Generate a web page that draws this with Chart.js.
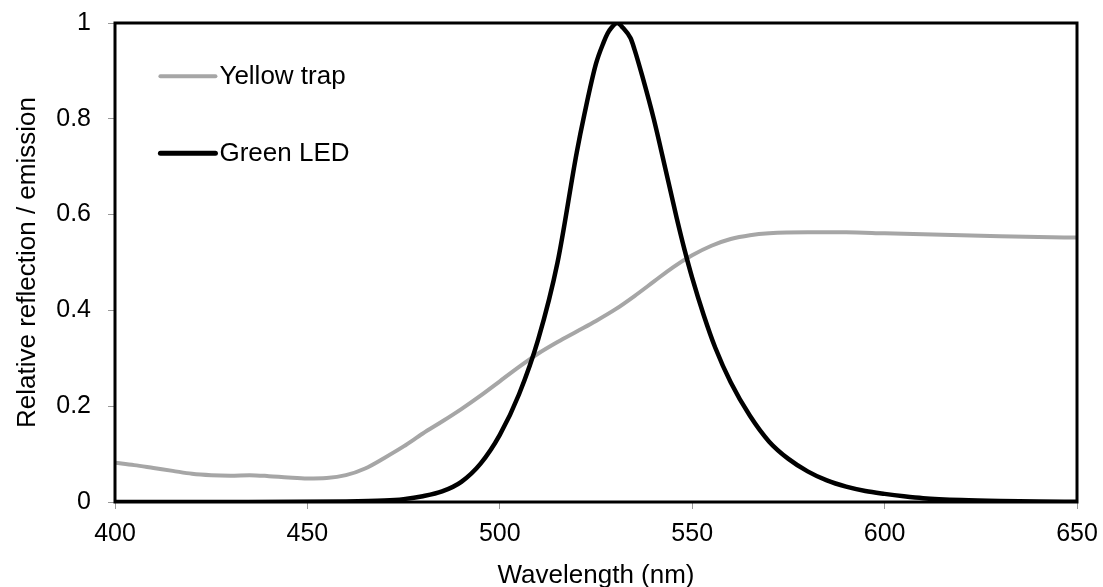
<!DOCTYPE html>
<html>
<head>
<meta charset="utf-8">
<script src="https://cdn.jsdelivr.net/npm/chart.js@4"></script>
<style>
  html, body { margin: 0; padding: 0; background: #fff; }
  #wrap { width: 1103px; height: 587px; }
</style>
</head>
<body>
<div id="wrap"><canvas id="c" width="1103" height="587"></canvas></div>
<script>
// Yellow trap reflection spectrum
const yellowNm = [400,405,410,415,420,425,430,435,440,445,450,455,460,465,470,475,480,485,490,495,500,505,510,515,520,525,530,535,540,545,550,555,560,565,570,580,590,600,610,620,630,640,650];
const yellowVal = [0.082,0.077,0.071,0.065,0.059,0.056,0.055,0.056,0.054,0.051,0.049,0.050,0.056,0.070,0.092,0.116,0.143,0.168,0.194,0.222,0.252,0.282,0.310,0.334,0.356,0.378,0.402,0.430,0.460,0.490,0.515,0.535,0.549,0.557,0.561,0.563,0.563,0.561,0.559,0.557,0.555,0.553,0.552];

// Green LED emission spectrum
const greenNm = [400,430,460,470,475,480,485,490,495,500,505,510,515,520,522,525,527,528,529,530.5,532,534,535,537,540,543,546,548,550,553,556,560,565,570,575,580,585,590,595,600,605,610,620,630,640,650];
const greenVal = [0,0,0.001,0.003,0.006,0.012,0.022,0.042,0.08,0.14,0.225,0.34,0.5,0.73,0.81,0.915,0.96,0.978,0.99,1.0,0.99,0.968,0.945,0.89,0.80,0.697,0.592,0.527,0.468,0.39,0.322,0.25,0.18,0.126,0.09,0.064,0.045,0.032,0.023,0.017,0.012,0.008,0.004,0.002,0.001,0.0005];

const seriesLabels = ['Yellow trap', 'Green LED'];
const xTicks = [400, 450, 500, 550, 600, 650];
const yTicks = [0, 0.2, 0.4, 0.6, 0.8, 1];
const xTitle = 'Wavelength (nm)';
const yTitle = 'Relative reflection / emission';

const FONT = '"Liberation Sans", Arial, sans-serif';
const GRAY = '#a6a6a6';

function pts(xs, ys) { return xs.map((x, i) => ({ x: x, y: ys[i] })); }

const framePlugin = {
  id: 'frame',
  afterDatasetsDraw(chart) {
    const { ctx, chartArea: a } = chart;
    ctx.save();
    ctx.strokeStyle = '#000';
    ctx.lineWidth = 3;
    ctx.strokeRect(a.left, a.top, a.right - a.left, a.bottom - a.top);
    ctx.restore();
  }
};

const legendPlugin = {
  id: 'insideLegend',
  afterDraw(chart) {
    const { ctx } = chart;
    const xs = chart.scales.x, ys = chart.scales.y;
    const rows = [
      { ds: chart.data.datasets[0], yv: 0.889 },
      { ds: chart.data.datasets[1], yv: 0.728 }
    ];
    ctx.save();
    rows.forEach(r => {
      const y = ys.getPixelForValue(r.yv);
      const x0 = xs.getPixelForValue(411.8);
      const x1 = xs.getPixelForValue(426.1);
      ctx.strokeStyle = r.ds.borderColor;
      ctx.lineWidth = r.ds.legendWidth;
      ctx.lineCap = 'round';
      ctx.beginPath();
      ctx.moveTo(x0, y);
      ctx.lineTo(x1, y);
      ctx.stroke();
      ctx.fillStyle = '#000';
      ctx.font = '26px ' + FONT;
      ctx.textBaseline = 'middle';
      ctx.textAlign = 'left';
      ctx.fillText(r.ds.label, x1 + 4, y + 1);
    });
    ctx.restore();
  }
};

new Chart(document.getElementById('c'), {
  type: 'line',
  data: {
    datasets: [
      {
        label: seriesLabels[0],
        data: pts(yellowNm, yellowVal),
        borderColor: GRAY,
        borderWidth: 4,
        legendWidth: 4,
        pointRadius: 0,
        cubicInterpolationMode: 'monotone',
        order: 2
      },
      {
        label: seriesLabels[1],
        data: pts(greenNm, greenVal),
        borderColor: '#000',
        borderWidth: 4.5,
        legendWidth: 5,
        pointRadius: 0,
        cubicInterpolationMode: 'monotone',
        order: 1
      }
    ]
  },
  options: {
    responsive: false,
    animation: false,
    events: [],
    layout: { padding: { top: 23, right: 26, left: 0, bottom: 0 } },
    plugins: { legend: { display: false }, tooltip: { enabled: false } },
    scales: {
      x: {
        type: 'linear',
        min: 400, max: 650,
        afterBuildTicks(s) { s.ticks = xTicks.map(v => ({ value: v })); },
        afterFit(s) { s.height = 85; s.paddingLeft = 0; s.paddingRight = 0; s.paddingTop = 0; s.paddingBottom = 0; },
        ticks: { color: '#000', font: { size: 25, family: FONT }, padding: 10, maxRotation: 0 },
        grid: { drawOnChartArea: false, drawTicks: true, tickLength: 7, color: '#999', lineWidth: 1 },
        border: { display: false },
        title: { display: true, text: xTitle, color: '#000', font: { size: 26, family: FONT, lineHeight: 0.85 }, padding: { top: 0, bottom: 0 } }
      },
      y: {
        type: 'linear',
        min: 0, max: 1,
        afterBuildTicks(s) { s.ticks = yTicks.map(v => ({ value: v })); },
        afterFit(s) { s.width = 115; s.paddingLeft = 0; s.paddingRight = 0; s.paddingTop = 0; s.paddingBottom = 0; },
        ticks: { color: '#000', font: { size: 25, family: FONT }, padding: 17, callback: v => String(+Number(v).toFixed(1)) },
        grid: { drawOnChartArea: false, drawTicks: true, tickLength: 7, color: '#999', lineWidth: 1 },
        border: { display: false },
        title: { display: true, text: yTitle, color: '#000', font: { size: 26, family: FONT, lineHeight: 1.2 }, padding: { top: 12, bottom: 0 } }
      }
    }
  },
  plugins: [framePlugin, legendPlugin]
});
</script>
</body>
</html>
